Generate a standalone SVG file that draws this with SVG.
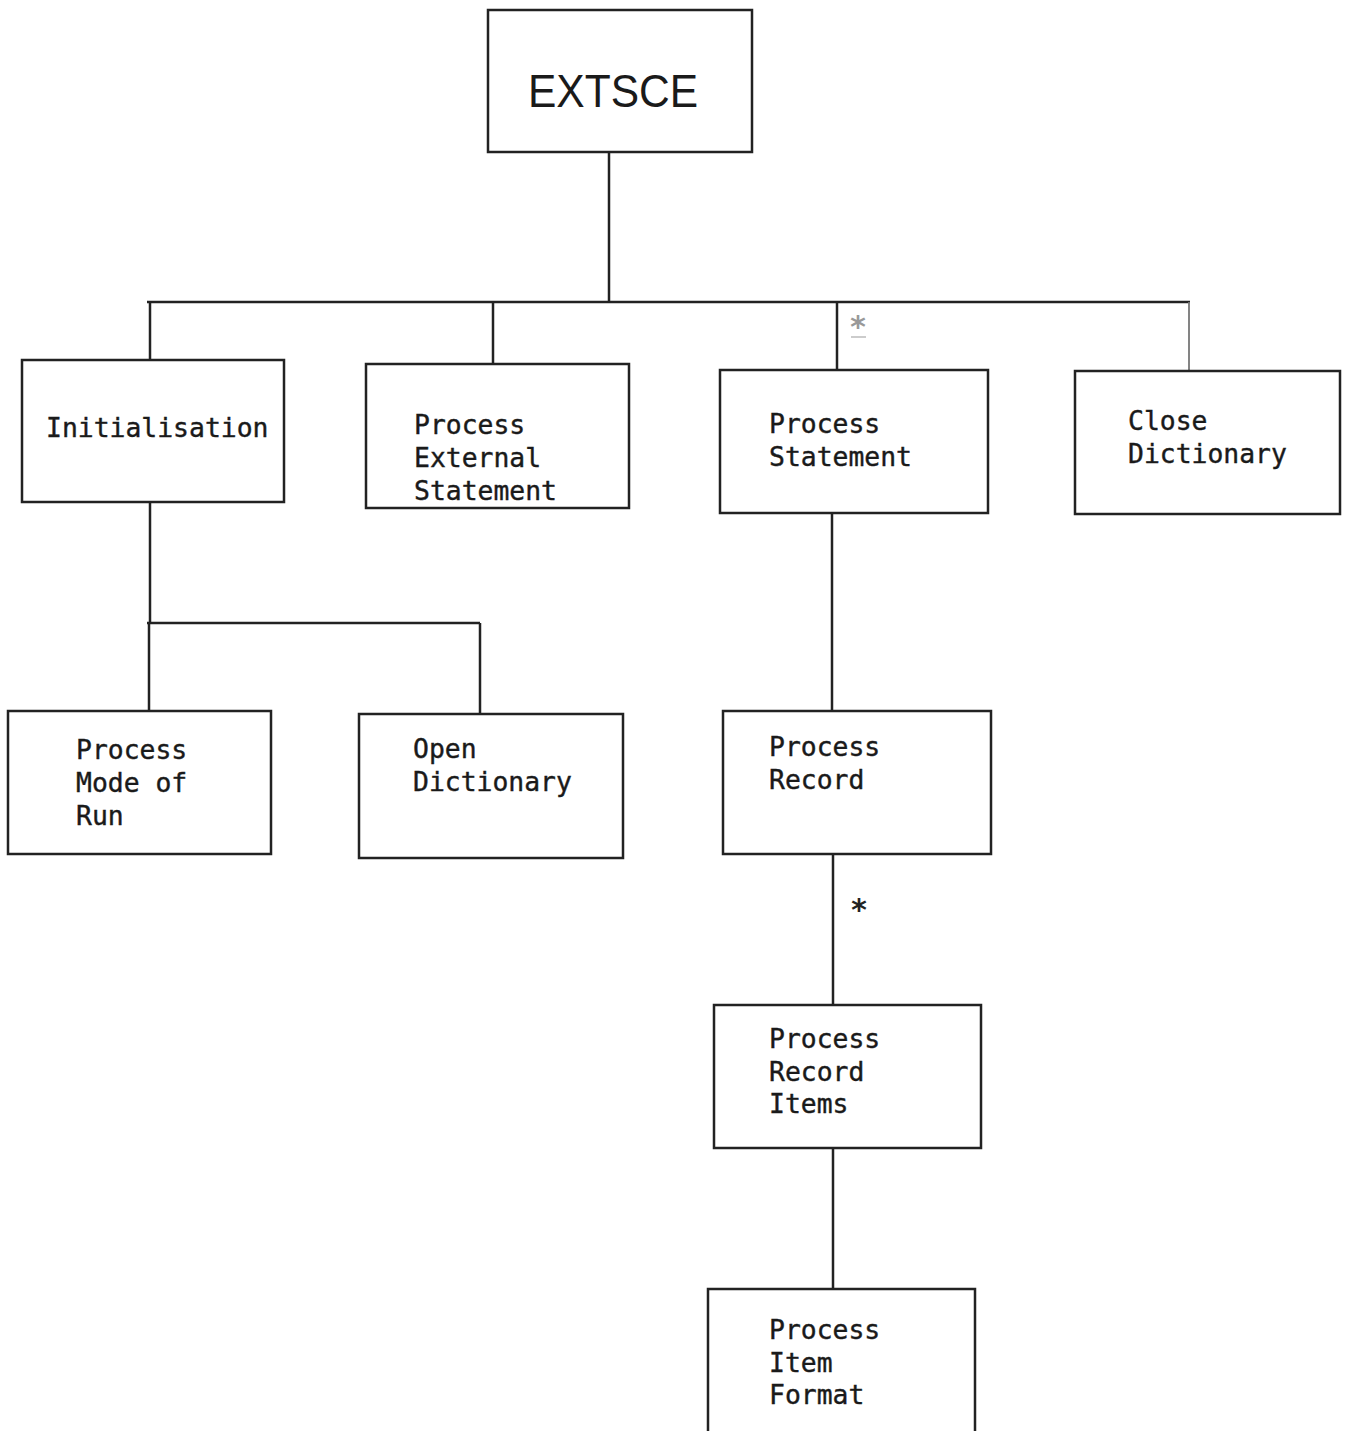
<svg xmlns="http://www.w3.org/2000/svg" width="1346" height="1431" viewBox="0 0 1346 1431">
  <style>
    .box { fill: #fff; stroke: #222; stroke-width: 2.5; }
    .lbl { font-family: "DejaVu Sans Mono", "Liberation Mono", monospace; font-size: 26.4px; fill: #1a1a1a; stroke: #1a1a1a; stroke-width: 0.4; }
    .title { font-family: "Liberation Sans", "DejaVu Sans", sans-serif; font-size: 46px; fill: #1a1a1a; }
    .wire { fill: none; stroke: #222; stroke-width: 2.5; }
    .wire-light { fill: none; stroke: #777; stroke-width: 1.8; }
    .star { font-family: "DejaVu Sans Mono", monospace; font-size: 30px; font-weight: bold; fill: #222; }
  </style>
  <rect width="1346" height="1431" fill="#fff"/>

  <g id="connectors">
    <path class="wire" d="M609 152 V302"/>
    <path class="wire" d="M147 302 H1190"/>
    <path class="wire" d="M150 302 V360"/>
    <path class="wire" d="M493 302 V365"/>
    <path class="wire" d="M837 302 V370"/>
    <path class="wire-light" d="M1189 302 V372"/>
    <path class="wire" d="M150 502 V623"/>
    <path class="wire" d="M147 623 H480"/>
    <path class="wire" d="M149 623 V711"/>
    <path class="wire" d="M480 623 V714"/>
    <path class="wire" d="M832 513 V711"/>
    <path class="wire" d="M833 854 V1005"/>
    <path class="wire" d="M833 1148 V1289"/>
    <text class="star" x="858" y="337" text-anchor="middle" style="fill:#999">*</text>
    <path d="M851 337 H866" stroke="#aaa" stroke-width="1.2"/>
    <text class="star" x="859" y="920" text-anchor="middle">*</text>
  </g>

  <g id="extsce">
    <rect class="box" x="488" y="10" width="264" height="142"/>
    <text class="title" x="528" y="107" textLength="170" lengthAdjust="spacingAndGlyphs">EXTSCE</text>
  </g>

  <g id="initialisation">
    <rect class="box" x="22" y="360" width="262" height="142"/>
    <text class="lbl" x="46" y="437">Initialisation</text>
  </g>

  <g id="process-external-statement">
    <rect class="box" x="366" y="364" width="263" height="144"/>
    <text class="lbl" x="414" y="434">Process</text>
    <text class="lbl" x="414" y="467">External</text>
    <text class="lbl" x="414" y="500">Statement</text>
  </g>

  <g id="process-statement">
    <rect class="box" x="720" y="370" width="268" height="143"/>
    <text class="lbl" x="769" y="433">Process</text>
    <text class="lbl" x="769" y="466">Statement</text>
  </g>

  <g id="close-dictionary">
    <rect class="box" x="1075" y="371" width="265" height="143"/>
    <text class="lbl" x="1128" y="430">Close</text>
    <text class="lbl" x="1128" y="463">Dictionary</text>
  </g>

  <g id="process-mode-of-run">
    <rect class="box" x="8" y="711" width="263" height="143"/>
    <text class="lbl" x="76" y="759">Process</text>
    <text class="lbl" x="76" y="792">Mode of</text>
    <text class="lbl" x="76" y="825">Run</text>
  </g>

  <g id="open-dictionary">
    <rect class="box" x="359" y="714" width="264" height="144"/>
    <text class="lbl" x="413" y="758">Open</text>
    <text class="lbl" x="413" y="791">Dictionary</text>
  </g>

  <g id="process-record">
    <rect class="box" x="723" y="711" width="268" height="143"/>
    <text class="lbl" x="769" y="756">Process</text>
    <text class="lbl" x="769" y="789">Record</text>
  </g>

  <g id="process-record-items">
    <rect class="box" x="714" y="1005" width="267" height="143"/>
    <text class="lbl" x="769" y="1048">Process</text>
    <text class="lbl" x="769" y="1081">Record</text>
    <text class="lbl" x="769" y="1113">Items</text>
  </g>

  <g id="process-item-format">
    <rect class="box" x="708" y="1289" width="267" height="150"/>
    <text class="lbl" x="769" y="1339">Process</text>
    <text class="lbl" x="769" y="1372">Item</text>
    <text class="lbl" x="769" y="1404">Format</text>
  </g>
</svg>
